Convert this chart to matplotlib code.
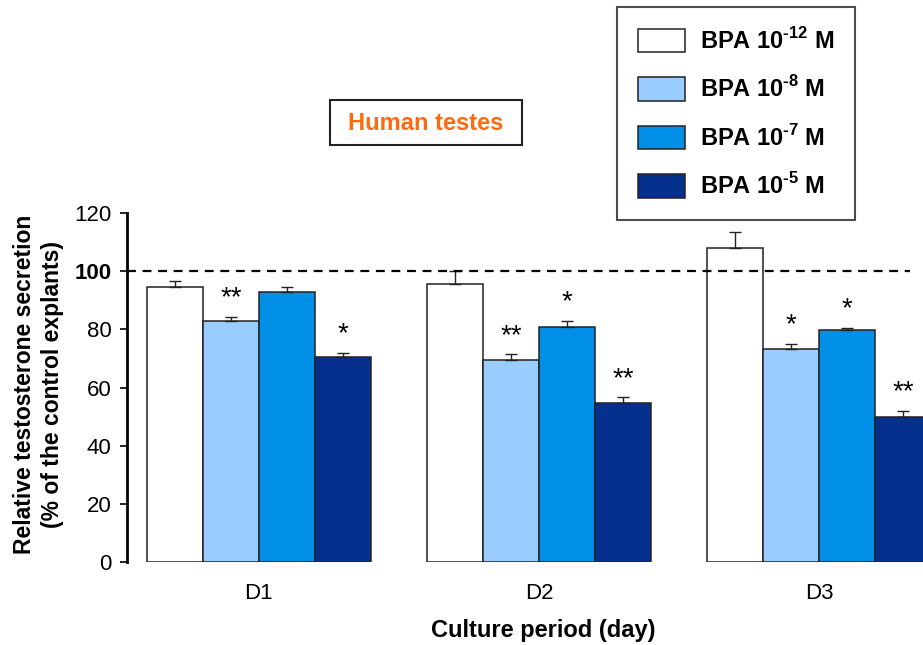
import numpy as np
import matplotlib
matplotlib.use("Agg")
import matplotlib.pyplot as plt
from matplotlib.patches import Patch, Rectangle

plt.rcParams['font.family'] = ['Liberation Sans', 'DejaVu Sans']
plt.rcParams['mathtext.fontset'] = 'custom'
plt.rcParams['mathtext.rm'] = 'Liberation Sans'
plt.rcParams['mathtext.bf'] = 'Liberation Sans:bold'

days = ['D1', 'D2', 'D3']
series = ['BPA 10$^{\\mathbf{\u2010}\\mathbf{12}}$ M', 'BPA 10$^{\\mathbf{\u2010}\\mathbf{8}}$ M',
          'BPA 10$^{\\mathbf{\u2010}\\mathbf{7}}$ M', 'BPA 10$^{\\mathbf{\u2010}\\mathbf{5}}$ M']
colors = ['#FFFFFF', '#99CCFF', '#0090E8', '#06308E']

bpa_12 = [94.5, 95.5, 108.1]
bpa_8 = [82.9, 69.4, 73.4]
bpa_7 = [92.8, 80.8, 79.9]
bpa_5 = [70.4, 54.6, 50.0]

err_12 = [2.2, 4.6, 5.3]
err_8 = [1.5, 2.0, 1.6]
err_7 = [1.6, 2.2, 0.5]
err_5 = [1.5, 2.0, 1.9]

stars_12 = ['', '', '']
stars_8 = ['**', '**', '*']
stars_7 = ['', '*', '*']
stars_5 = ['*', '**', '**']

values = [bpa_12, bpa_8, bpa_7, bpa_5]
errors = [err_12, err_8, err_7, err_5]
stars = [stars_12, stars_8, stars_7, stars_5]

fig = plt.figure(figsize=(9.23, 6.45), dpi=100)
ax = fig.add_axes([127 / 923, 83 / 645, 832 / 923, 349 / 645])

x = np.arange(len(days))
w = 0.2
for i in range(4):
    pos = x + (i - 1.5) * w
    ax.bar(pos, values[i], w, color=colors[i], edgecolor='#222222', linewidth=1.1,
           yerr=[np.zeros(3), errors[i]], error_kw=dict(ecolor='#222222', elinewidth=1.0,
                                                         capsize=4, capthick=1.0))
    for j in range(3):
        if stars[i][j]:
            ax.text(pos[j], values[i][j] + errors[i][j] + 4.0, stars[i][j],
                    ha='center', va='baseline', fontsize=20)

ax.hlines(100, -0.471, 2.325, colors='black', linestyles=(0, (4, 3)), linewidth=1.6)

ax.set_xlim(-0.471, 2.5)
ax.set_ylim(0, 120)
ax.set_yticks(np.arange(0, 121, 20))
ax.set_xticks(x)
ax.set_xticklabels(days, fontsize=16)
ax.tick_params(axis='x', length=0, pad=15)
ax.tick_params(axis='y', labelsize=16, length=5, width=1.2, direction='out', pad=6)
for lab in ax.get_yticklabels():
    if lab.get_text() == '100':
        lab.set_fontweight('bold')
for s in ['top', 'right', 'bottom']:
    ax.spines[s].set_visible(False)
ax.spines['left'].set_linewidth(2.0)

ax.set_xlabel('Culture period (day)', fontsize=17, fontweight='bold', labelpad=11)
ax.set_ylabel('Relative testosterone secretion\n(% of the control explants)',
              fontsize=16.5, fontweight='bold', linespacing=1.3)
ax.yaxis.set_label_coords((64 - 127) / 832, 0.51)

# title box
fig.patches.append(Rectangle((330 / 923, 1 - 145 / 645), 192 / 923, 45 / 645,
                             transform=fig.transFigure, facecolor='white',
                             edgecolor='#222222', linewidth=1.5))
fig.text(426 / 923, 1 - 123 / 645, 'Human testes', color='#FF6A10', fontsize=17,
         fontweight='bold', ha='center', va='center')

handles = [Patch(facecolor=colors[i], edgecolor='#222222', linewidth=1.1) for i in range(4)]
leg = fig.legend(handles, series, loc='upper left', bbox_to_anchor=(617 / 923, 1 - 7 / 645),
                 prop=dict(size=17, weight='bold'), frameon=True, fancybox=False,
                 handlelength=2.0, handleheight=1.15, labelspacing=0.96, handletextpad=0.64,
                 borderpad=0.87, borderaxespad=0)
leg.get_frame().set_edgecolor('#222222')
leg.get_frame().set_linewidth(1.5)

fig.savefig('out.png', dpi=100)
